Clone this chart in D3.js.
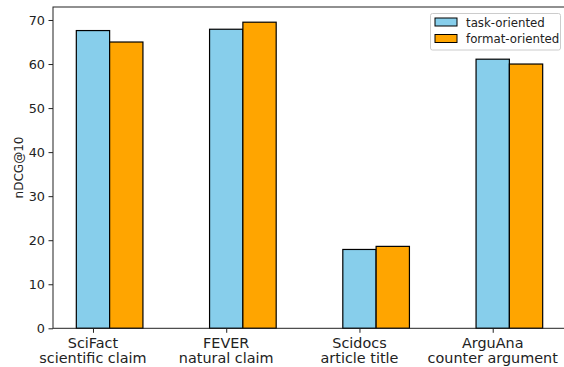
<!DOCTYPE html>
<html><head><meta charset="utf-8">
<script src="https://cdn.jsdelivr.net/npm/d3@7"></script>
<style>body{margin:0;background:#fff}svg{display:block}text{font-family:"DejaVu Sans",sans-serif}</style>
</head><body>
<svg id="c" width="564" height="367"></svg>
<script>
const categories = ["SciFact\nscientific claim","FEVER\nnatural claim","Scidocs\narticle title","ArguAna\ncounter argument"];
const seriesNames = ["task-oriented","format-oriented"];
const taskOriented = [67.6, 67.9, 17.9, 61.1];
const formatOriented = [65.0, 69.5, 18.6, 60.0];
const yTicks = [0,10,20,30,40,50,60,70];
const colors = ["#87ceeb","#ffa500"];

const svg = d3.select("#c");
const L = 53, R = 566, T = 7, B = 328.3;
const x = d3.scaleLinear().domain([-0.3, 3.55]).range([L, R]);
const y = d3.scaleLinear().domain([0, 72.95]).range([B, T]);
const bw = 0.25;
const series = [taskOriented, formatOriented];

series.forEach((vals, s) => {
  svg.append("g").selectAll("rect").data(vals).join("rect")
    .attr("x", (d,i) => x(i + s*bw - bw/2))
    .attr("width", (d,i) => x(i + s*bw + bw/2) - x(i + s*bw - bw/2))
    .attr("y", d => y(d))
    .attr("height", d => y(0) - y(d))
    .attr("fill", colors[s]).attr("stroke", "#000").attr("stroke-width", 1.2);
});

// frame
svg.append("rect").attr("x", L).attr("y", T).attr("width", R-L).attr("height", B-T)
  .attr("fill","none").attr("stroke","#222").attr("stroke-width",1);

// y axis
const ya = svg.append("g").attr("transform",`translate(${L},0)`)
  .call(d3.axisLeft(y).tickValues(yTicks).tickSize(4.5).tickPadding(3.5));
ya.select(".domain").remove();
ya.selectAll("text").attr("font-size", 12.8).attr("fill","#222");
ya.selectAll("line").attr("stroke","#222");

// x axis
const xa = svg.append("g").attr("transform",`translate(0,${B})`)
  .call(d3.axisBottom(x).tickValues([0,1,2,3]).tickSize(4.5).tickFormat(""));
xa.select(".domain").remove();
xa.selectAll("line").attr("stroke","#222");
categories.forEach((c,i) => {
  const t = svg.append("text").attr("x", x(i)).attr("text-anchor","middle")
    .attr("font-size", 14.4).attr("fill","#222");
  c.split("\n").forEach((ln,k) => t.append("tspan").attr("x", x(i)).attr("y", 347.5 + k*15.2).text(ln));
});

// y label
svg.append("text").attr("transform","translate(23,167.5) rotate(-90)")
  .attr("text-anchor","middle").attr("font-size",12).attr("fill","#222").text("nDCG@10");

// legend
const lg = svg.append("g");
lg.append("rect").attr("x",430.5).attr("y",13.5).attr("width",130).attr("height",36.5).attr("rx",2)
  .attr("fill","#fff").attr("stroke","#ccc");
seriesNames.forEach((n,i) => {
  lg.append("rect").attr("x",435).attr("y",18 + i*16.5).attr("width",22).attr("height",8)
    .attr("fill",colors[i]).attr("stroke","#000").attr("stroke-width",1);
  lg.append("text").attr("x",466).attr("y",26.5 + i*16.5).attr("font-size",11.8).attr("fill","#222").text(n);
});
</script>
</body></html>
